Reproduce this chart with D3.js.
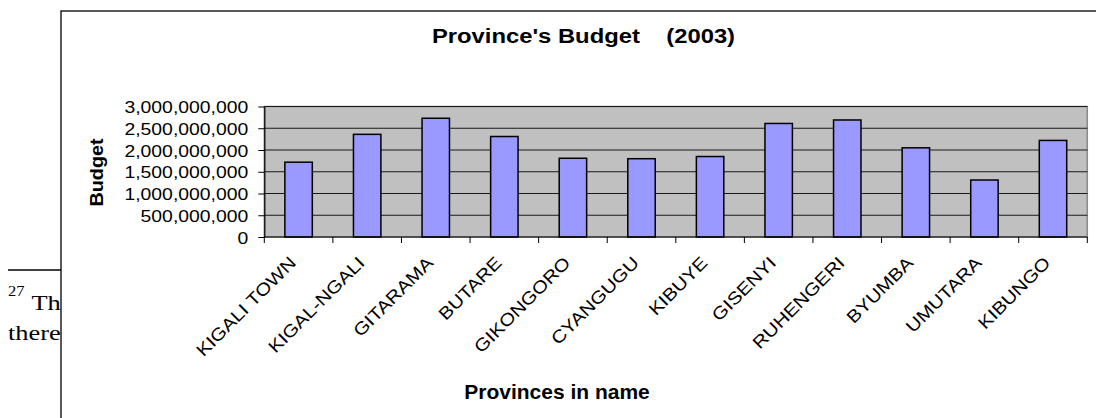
<!DOCTYPE html>
<html>
<head>
<meta charset="utf-8">
<script src="https://cdn.jsdelivr.net/npm/d3@7"></script>
<style>
  html, body { margin: 0; padding: 0; background: #fff; }
  svg { display: block; }
  text { font-family: "Liberation Sans", Arial, sans-serif; fill: #000; }
  .serif { font-family: "Liberation Serif", "Times New Roman", serif; }
</style>
</head>
<body>
<svg id="chart" width="1096" height="418"></svg>
<script>
// Provincial budgets, 2003 (Rwandan francs)
const provinces = ["KIGALI TOWN", "KIGAL-NGALI", "GITARAMA", "BUTARE", "GIKONGORO", "CYANGUGU",
                   "KIBUYE", "GISENYI", "RUHENGERI", "BYUMBA", "UMUTARA", "KIBUNGO"];
const budget = [1720000000, 2360000000, 2730000000, 2310000000, 1810000000, 1800000000,
                1850000000, 2610000000, 2690000000, 2050000000, 1310000000, 2220000000];
const yTicks = [0, 500000000, 1000000000, 1500000000, 2000000000, 2500000000, 3000000000];

const chartTitle = "Province's Budget    (2003)";
const yTitle = "Budget";
const xTitle = "Provinces in name";

const svg = d3.select("#chart");

// footnote text of the surrounding page, partly hidden behind the chart frame
svg.append("line").attr("x1", 8).attr("x2", 61).attr("y1", 270).attr("y2", 270)
  .attr("stroke", "#000").attr("stroke-width", 1.5);
svg.append("text").attr("class", "serif")
  .attr("transform", "translate(8,296) scale(1.18,1)")
  .style("font-size", "14px").text("27");
svg.append("text").attr("class", "serif")
  .attr("transform", "translate(31.5,310) scale(1.2,1)")
  .style("font-size", "22px").text("The");
svg.append("text").attr("class", "serif")
  .attr("transform", "translate(8,340) scale(1.2,1)")
  .style("font-size", "22px").text("there");

// chart frame
svg.append("rect").attr("x", 61).attr("y", 11).attr("width", 1100).attr("height", 500)
  .attr("fill", "#fff").attr("stroke", "#000").attr("stroke-width", 1.3);

const plot = { left: 264.3, right: 1087.3, top: 106.5, bottom: 237 };

const x = d3.scaleBand().domain(provinces)
  .range([plot.left, plot.right]).paddingInner(0.6).paddingOuter(0.3);
const y = d3.scaleLinear().domain([0, 3000000000]).range([plot.bottom, plot.top]);

// plot area
svg.append("rect").attr("x", plot.left).attr("y", plot.top)
  .attr("width", plot.right - plot.left).attr("height", plot.bottom - plot.top)
  .attr("fill", "#c0c0c0").attr("stroke", "#8a8a8a").attr("stroke-width", 1.5);

// gridlines
svg.append("g").selectAll("line").data(yTicks.filter(d => d > 0)).join("line")
  .attr("x1", plot.left).attr("x2", plot.right)
  .attr("y1", d => y(d)).attr("y2", d => y(d))
  .attr("stroke", "#1a1a1a").attr("stroke-width", 1);

// bars
svg.append("g").selectAll("rect").data(provinces).join("rect")
  .attr("x", d => x(d)).attr("width", x.bandwidth())
  .attr("y", (d, i) => y(budget[i]))
  .attr("height", (d, i) => y(0) - y(budget[i]))
  .attr("fill", "#9999ff").attr("stroke", "#000").attr("stroke-width", 1.5);

// y axis
const fmt = d3.format(",");
const yAxis = svg.append("g").attr("transform", `translate(${plot.left},0)`)
  .call(d3.axisLeft(y).tickValues(yTicks).tickFormat(fmt).tickSize(6).tickSizeOuter(0));
yAxis.select(".domain").attr("stroke", "#000").attr("stroke-width", 1.2);
yAxis.selectAll(".tick line").attr("stroke", "#000");
const yStretch = 1.14;
yAxis.selectAll(".tick text")
  .attr("x", null).attr("dy", null)
  .attr("transform", `translate(-16,6) scale(${yStretch},1)`)
  .style("font-size", "17px").attr("fill", "#000");

// x axis line with ticks between categories
const xAxisG = svg.append("g").attr("transform", `translate(0,${plot.bottom})`);
xAxisG.append("line").attr("x1", plot.left).attr("x2", plot.right)
  .attr("stroke", "#000").attr("stroke-width", 1.2);
const boundaries = provinces.map(p => x(p) - x.step() * x.paddingOuter()).concat([plot.right]);
xAxisG.selectAll("line.tk").data(boundaries).join("line").attr("class", "tk")
  .attr("x1", d => d).attr("x2", d => d).attr("y1", 0).attr("y2", 6)
  .attr("stroke", "#000");

// rotated category labels
const xStretch = 1.16;
svg.append("g").selectAll("text").data(provinces).join("text")
  .attr("text-anchor", "end")
  .attr("transform", d => `translate(${x(d) + x.bandwidth() / 2 - 1.5},${264}) rotate(-45) scale(${xStretch},1)`)
  .style("font-size", "17.5px")
  .text(d => d);

// titles
svg.append("text").attr("text-anchor", "middle")
  .attr("transform", "translate(583.5,42.7) scale(1.19,1)")
  .style("font-size", "20px").style("font-weight", "bold").style("white-space", "pre")
  .text(chartTitle);

svg.append("text").attr("text-anchor", "middle")
  .attr("transform", "translate(103,172.5) rotate(-90) scale(1.1,1)")
  .style("font-size", "18px").style("font-weight", "bold")
  .text(yTitle);

svg.append("text").attr("text-anchor", "middle")
  .attr("transform", "translate(557,399) scale(1.05,1)")
  .style("font-size", "20px").style("font-weight", "bold")
  .text(xTitle);
</script>
</body>
</html>
